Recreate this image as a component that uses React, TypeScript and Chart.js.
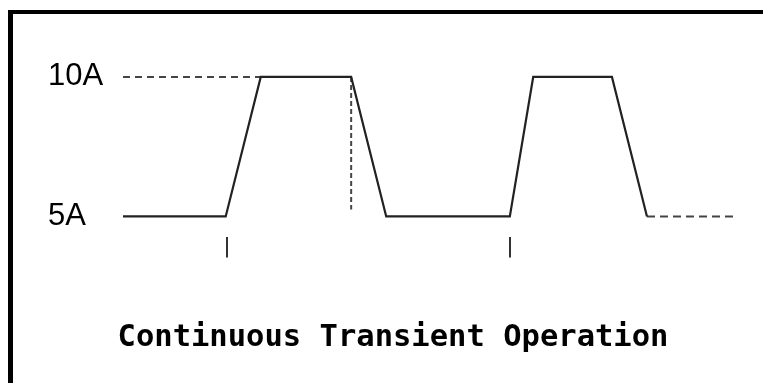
import React, { useEffect, useRef } from "react";
import { Chart, registerables } from "chart.js";

Chart.register(...registerables);

// Time axis (arbitrary units) and current levels (A)
const pulseTimes = [0, 16.7, 22.4, 37.1, 42.8, 62.9, 66.7, 79.5, 85.2];
const pulseCurrents = [5, 5, 10, 10, 5, 5, 10, 10, 5];

const levelGuideTimes = [0, 22.4];
const levelGuideCurrents = [10, 10];

const fallMarkerTimes = [37.1, 37.1];
const fallMarkerCurrents = [10, 5.25];

const tailTimes = [85.2, 100];
const tailCurrents = [5, 5];

const periodTickTimes = [16.9, 62.9];
const levelTicks = [5, 10];
const levelLabels = ["5A", "10A"];

const titleText = "Continuous Transient Operation";

const toPoints = (xs: number[], ys: number[]) => xs.map((x, i) => ({ x, y: ys[i] }));

export default function App() {
  const ref = useRef<HTMLCanvasElement | null>(null);

  useEffect(() => {
    if (!ref.current) return;
    const chart = new Chart(ref.current, {
      type: "scatter",
      data: {
        datasets: [
          {
            data: toPoints(pulseTimes, pulseCurrents),
            showLine: true,
            borderColor: "#222",
            borderWidth: 2.2,
            pointRadius: 0,
            tension: 0,
          },
          {
            data: toPoints(levelGuideTimes, levelGuideCurrents),
            showLine: true,
            borderColor: "#444",
            borderWidth: 2,
            borderDash: [7, 5],
            pointRadius: 0,
          },
          {
            data: toPoints(fallMarkerTimes, fallMarkerCurrents),
            showLine: true,
            borderColor: "#444",
            borderWidth: 2,
            borderDash: [5, 3],
            pointRadius: 0,
          },
          {
            data: toPoints(tailTimes, tailCurrents),
            showLine: true,
            borderColor: "#444",
            borderWidth: 2,
            borderDash: [8, 5],
            pointRadius: 0,
          },
        ],
      },
      options: {
        responsive: false,
        animation: false,
        layout: { padding: { left: 35, right: 25, top: 49, bottom: 0 } },
        plugins: {
          legend: { display: false },
          tooltip: { enabled: false },
          title: {
            display: true,
            position: "bottom",
            text: titleText,
            color: "#000",
            font: { family: "'DejaVu Sans Mono'", size: 30.5, weight: "bold" },
            padding: { top: 0, bottom: 27 },
          },
        },
        scales: {
          x: {
            type: "linear",
            min: 0,
            max: 100,
            afterBuildTicks: (scale: any) => {
              scale.ticks = periodTickTimes.map((v) => ({ value: v }));
            },
            afterFit: (scale: any) => {
              scale.height = 82;
            },
            ticks: { callback: () => "", display: true },
            grid: {
              display: true,
              drawOnChartArea: false,
              drawTicks: true,
              tickLength: 20,
              color: "#333",
              lineWidth: 2,
            },
            border: { display: false },
          },
          y: {
            type: "linear",
            min: 4.25,
            max: 10.5,
            afterBuildTicks: (scale: any) => {
              scale.ticks = levelTicks.map((v) => ({ value: v }));
            },
            afterFit: (scale: any) => {
              scale.width = 75;
            },
            ticks: {
              crossAlign: "far",
              color: "#000",
              font: { family: "'Liberation Sans', Arial, sans-serif", size: 31 },
              callback: (v: any) => {
                const i = levelTicks.indexOf(Number(v));
                return i >= 0 ? levelLabels[i] : "";
              },
            },
            grid: { display: false },
            border: { display: false },
          },
        },
      },
    });
    return () => chart.destroy();
  }, []);

  return (
    <div
      style={{
        position: "fixed",
        left: 8,
        top: 10,
        width: 755,
        height: 373,
        boxSizing: "border-box",
        borderTop: "4px solid #000",
        borderLeft: "5px solid #000",
        background: "#fff",
      }}
    >
      <canvas ref={ref} width={750} height={369} style={{ display: "block" }} />
    </div>
  );
}
